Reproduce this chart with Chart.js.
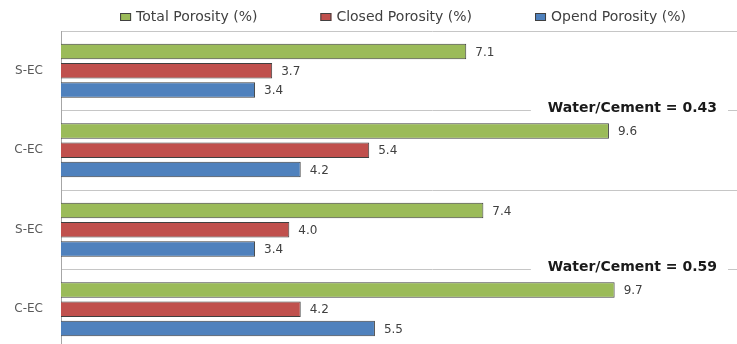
<!DOCTYPE html>
<html>
<head>
<meta charset="utf-8">
<script src="https://cdn.jsdelivr.net/npm/chart.js@4.4.1/dist/chart.umd.min.js"></script>
<style>
  html, body { margin: 0; padding: 0; background: #fff; overflow: hidden; }
  #wrap { width: 824px; height: 352px; }
</style>
</head>
<body>
<div id="wrap"><canvas id="porosityChart" width="824" height="352"></canvas></div>
<script>
const categories = ['S-EC', 'C-EC', 'S-EC', 'C-EC'];
const totalPorosity = [7.1, 9.6, 7.4, 9.7];
const closedPorosity = [3.7, 5.4, 4.0, 4.2];
const openPorosity = [3.4, 4.2, 3.4, 5.5];
const seriesNames = ['Total Porosity (%)', 'Closed Porosity (%)', 'Opend Porosity (%)'];
const seriesColors = ['#9BBB59', '#C0504D', '#4F81BD'];
// w/c ratio note sits on the boundary below these category indexes
const ratioLabels = ['Water/Cement = 0.43', 'Water/Cement = 0.59'];
const ratioAfterIndex = [0, 2];

const FONT = "'DejaVu Sans', sans-serif";

// numbers printed just past the end of each bar
const valueLabels = {
    id: 'valueLabels',
    afterDatasetsDraw(chart) {
        const ctx = chart.ctx;
        ctx.save();
        ctx.font = '12px ' + FONT;
        ctx.fillStyle = '#404040';
        ctx.textBaseline = 'middle';
        chart.data.datasets.forEach((ds, i) => {
            chart.getDatasetMeta(i).data.forEach((bar, j) => {
                ctx.fillText(ds.data[j].toFixed(1), bar.x + 9, bar.y + 1);
            });
        });
        ctx.restore();
    }
};

// bold ratio notes, with a white box that breaks the grid line
const ratioNotes = {
    id: 'ratioNotes',
    afterDraw(chart) {
        const { ctx, scales: { x, y } } = chart;
        ctx.save();
        ctx.font = 'bold 14px ' + FONT;
        ctx.textBaseline = 'middle';
        ratioLabels.forEach((txt, k) => {
            const i = ratioAfterIndex[k];
            const yy = (y.getPixelForValue(i) + y.getPixelForValue(i + 1)) / 2;
            const tx = x.getPixelForValue(8.53);
            const w = ctx.measureText(txt).width;
            ctx.fillStyle = '#fff';
            ctx.fillRect(tx - 17, yy - 7, w + 28, 14);
            ctx.fillStyle = '#1a1a1a';
            ctx.fillText(txt, tx, yy - 2);
        });
        ctx.restore();
    }
};

// single-row legend across the top
const topLegend = {
    id: 'topLegend',
    afterDraw(chart) {
        const ctx = chart.ctx;
        ctx.save();
        ctx.font = '14px ' + FONT;
        ctx.textBaseline = 'middle';
        const box = 11, gapText = 5, gapItem = 63, cy = 17;
        const items = chart.data.datasets.map(ds => ({
            ds, w: box + gapText + ctx.measureText(ds.label).width
        }));
        const total = items.reduce((s, it) => s + it.w, 0) + gapItem * (items.length - 1);
        let cx = chart.width / 2 - 9 - total / 2;
        items.forEach(it => {
            ctx.fillStyle = it.ds.backgroundColor;
            ctx.fillRect(cx, cy - 4, box, 8);
            ctx.strokeStyle = '#404040';
            ctx.lineWidth = 1;
            ctx.strokeRect(cx + 0.5, cy - 3.5, box - 1, 7);
            ctx.fillStyle = '#404040';
            ctx.fillText(it.ds.label, cx + box + gapText, cy);
            cx += it.w + gapItem;
        });
        ctx.restore();
    }
};

const seriesData = [totalPorosity, closedPorosity, openPorosity];

new Chart(document.getElementById('porosityChart'), {
    type: 'bar',
    data: {
        labels: categories,
        datasets: seriesData.map((values, i) => ({
            label: seriesNames[i],
            data: values,
            backgroundColor: seriesColors[i],
            borderColor: '#3f3f3f',
            borderWidth: 1,
            categoryPercentage: 0.73,
            barPercentage: 0.8
        }))
    },
    options: {
        indexAxis: 'y',
        responsive: false,
        animation: false,
        events: [],
        layout: { padding: { top: 31, right: 21, bottom: 3, left: 0 } },
        plugins: {
            legend: { display: false },
            tooltip: { enabled: false }
        },
        scales: {
            x: { display: false, min: 0, max: 13 },
            y: {
                afterFit(scale) {
                    // fixed gutter for the names; tick padding must not shrink the plot
                    scale.width = 61;
                    scale.paddingTop = 0;
                    scale.paddingBottom = 0;
                },
                grid: { color: '#c6c6c6', drawTicks: false, offset: true },
                border: { color: '#a6a6a6' },
                ticks: { color: '#595959', padding: 18, font: { family: 'DejaVu Sans', size: 12 } }
            }
        }
    },
    plugins: [valueLabels, ratioNotes, topLegend]
});
</script>
</body>
</html>
